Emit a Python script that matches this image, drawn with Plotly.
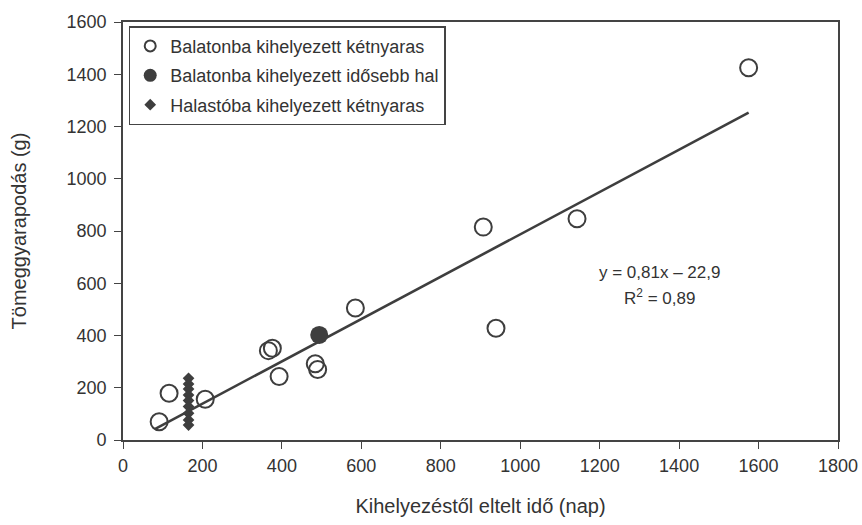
import plotly.graph_objects as go

# Balatonba kihelyezett kétnyaras (open circles)
bal_x = [91, 116, 207, 366, 376, 393, 484, 490, 585, 907, 939, 1143, 1575]
bal_y = [70, 179, 156, 342, 351, 243, 292, 270, 505, 815, 428, 847, 1425]

# Balatonba kihelyezett idősebb hal (filled circle)
old_x = [494]
old_y = [402]

# Halastóba kihelyezett kétnyaras (diamonds)
pond_x = [165, 165, 165, 165, 165, 165, 165, 165, 165]
pond_y = [236, 214, 195, 172, 151, 128, 102, 77, 57]

# Regression line y = 0.81x - 22.9
slope = 0.81
intercept = -22.9
line_x = [80, 1575]
line_y = [slope * v + intercept for v in line_x]

x_ticks = list(range(0, 1801, 200))
y_ticks = list(range(0, 1601, 200))

FONT = "Liberation Sans, Arial, sans-serif"
INK = "#333333"
MARK = "#3e3e3e"

fig = go.Figure()

fig.add_trace(go.Scatter(
    x=line_x, y=line_y, mode="lines",
    line=dict(color=MARK, width=2.6),
    showlegend=False, hoverinfo="skip"))

fig.add_trace(go.Scatter(
    x=bal_x, y=bal_y, mode="markers", showlegend=False,
    marker=dict(symbol="circle-open", size=17, color=MARK,
                line=dict(width=2, color=MARK))))

fig.add_trace(go.Scatter(
    x=old_x, y=old_y, mode="markers", showlegend=False,
    marker=dict(symbol="circle", size=18, color=MARK)))

fig.add_trace(go.Scatter(
    x=pond_x, y=pond_y, mode="markers", showlegend=False,
    marker=dict(symbol="diamond", size=9, color=MARK)))

# legend entries (legend-only, smaller symbols as in the reference legend)
fig.add_trace(go.Scatter(
    x=[None], y=[None], mode="markers",
    name="Balatonba kihelyezett kétnyaras", legendgroup="a",
    marker=dict(symbol="circle-open", size=11, color=MARK,
                line=dict(width=2, color=MARK))))
fig.add_trace(go.Scatter(
    x=[None], y=[None], mode="markers",
    name="Balatonba kihelyezett idősebb hal", legendgroup="b",
    marker=dict(symbol="circle", size=13, color=MARK)))
fig.add_trace(go.Scatter(
    x=[None], y=[None], mode="markers",
    name="Halastóba kihelyezett kétnyaras", legendgroup="c",
    marker=dict(symbol="diamond", size=9, color=MARK)))

fig.add_annotation(
    x=1350, y=643, xref="x", yref="y",
    text="y = 0,81x – 22,9",
    showarrow=False, align="center",
    font=dict(family=FONT, size=17, color=INK))
fig.add_annotation(
    x=1350, y=546, xref="x", yref="y",
    text="R<sup>2</sup> = 0,89",
    showarrow=False, align="center",
    font=dict(family=FONT, size=17, color=INK))

axis_common = dict(
    showline=True, linecolor="#444444", linewidth=1.6, mirror=True,
    ticks="outside", ticklen=7, tickwidth=1.4, tickcolor="#444444",
    showgrid=False, zeroline=False, automargin=False,
    tickfont=dict(family=FONT, size=18, color=INK),
)

fig.update_layout(
    width=862, height=525,
    margin=dict(l=123, r=24, t=22, b=85),
    paper_bgcolor="white", plot_bgcolor="white",
    font=dict(family=FONT, size=18, color=INK),
    xaxis=dict(range=[0, 1800], tickvals=x_ticks, ticklabelstandoff=2,
               title=dict(text="Kihelyezéstől eltelt idő (nap)", standoff=24,
                          font=dict(family=FONT, size=20, color=INK)),
               **axis_common),
    yaxis=dict(range=[0, 1600], tickvals=y_ticks, ticklabelstandoff=4,
               title=dict(text="Tömeggyarapodás (g)", standoff=35,
                          font=dict(family=FONT, size=20, color=INK)),
               **axis_common),
    legend=dict(x=0.008, y=0.99, xanchor="left", yanchor="top",
                bordercolor="#444444", borderwidth=1.5, bgcolor="white",
                traceorder="grouped", tracegroupgap=3,
                font=dict(family=FONT, size=18, color=INK),
                itemsizing="trace"),
)

fig.write_html("out.html", config={"displayModeBar": False})

# remove the browser's default 8px body margin so the figure sits at (0, 0)
with open("out.html", "r", encoding="utf-8") as f:
    html = f.read()
html = html.replace("<body>", '<body style="margin:0;padding:0;">', 1)
with open("out.html", "w", encoding="utf-8") as f:
    f.write(html)
